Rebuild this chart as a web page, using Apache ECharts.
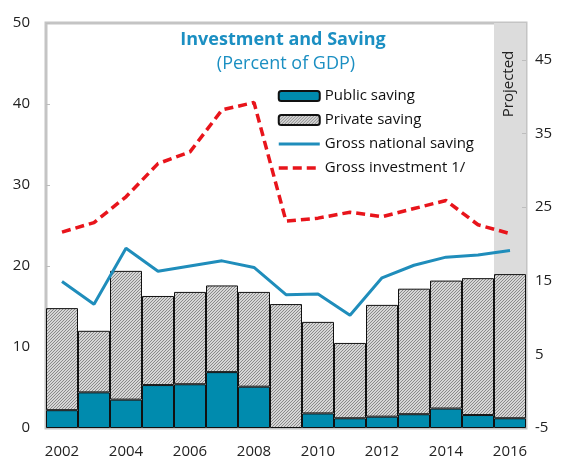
<!DOCTYPE html>
<html>
<head>
<meta charset="utf-8">
<script src="https://cdn.jsdelivr.net/npm/echarts@6/dist/echarts.min.js"></script>
<style>
html,body{margin:0;padding:0;background:#fff;}
#chart{width:562px;height:461px;}
</style>
</head>
<body>
<div id="chart"></div>
<script>
// ---- data ----
var years = ['2002','2003','2004','2005','2006','2007','2008','2009','2010','2011','2012','2013','2014','2015','2016'];
var publicSaving  = [2.2, 4.4, 3.5, 5.3, 5.4, 6.9, 5.1, -2.2, 1.8, 1.2, 1.4, 1.7, 2.4, 1.6, 1.2];
var privateSaving = [12.6, 7.6, 15.9, 11.0, 11.4, 10.7, 11.7, 15.3, 11.3, 9.3, 13.8, 15.5, 15.8, 16.9, 17.8];
var grossNationalSaving = [14.9, 11.8, 19.4, 16.3, 17.0, 17.7, 16.8, 13.1, 13.2, 10.3, 15.4, 17.1, 18.2, 18.5, 19.1];
var grossInvestment = [21.6, 22.9, 26.4, 30.9, 32.5, 38.2, 39.2, 23.1, 23.5, 24.3, 23.7, 24.8, 25.9, 22.6, 21.4];
var leftTicks = [0, 10, 20, 30, 40, 50];
var rightTicks = [-5, 5, 15, 25, 35, 45];
var projectedYears = ['2016'];

// hatch pattern
function makeHatch() {
  var c = document.createElement('canvas');
  c.width = 3; c.height = 3;
  var g = c.getContext('2d');
  g.fillStyle = '#d6d6d6';
  g.fillRect(0, 0, 3, 3);
  g.strokeStyle = '#8a8a8a';
  g.lineWidth = 1;
  g.beginPath();
  g.moveTo(0, 3); g.lineTo(3, 0);
  g.moveTo(-1, 1); g.lineTo(1, -1);
  g.moveTo(2, 4); g.lineTo(4, 2);
  g.stroke();
  return c;
}
var hatch = { image: makeHatch(), repeat: 'repeat' };

var FONT = 'Open Sans';
var TEAL_BAR = '#008bae';
var TEAL_LINE = '#1f8dbb';
var RED = '#e8141b';

var projectedBand = years.map(function (y) { return projectedYears.indexOf(y) >= 0 ? 1 : null; });

var chart = echarts.init(document.getElementById('chart'), null, { renderer: 'canvas' });
chart.setOption({
  animation: false,
  backgroundColor: '#ffffff',
  textStyle: { fontFamily: FONT },
  title: [{
    text: 'Investment and Saving',
    left: 278, top: 26, textAlign: 'center',
    textStyle: { color: '#1b8fc2', fontSize: 18, fontWeight: 'bold', fontFamily: FONT }
  }, {
    text: '(Percent of GDP)',
    left: 281, top: 50, textAlign: 'center',
    textStyle: { color: '#1b8fc2', fontSize: 18, fontWeight: 'normal', fontFamily: FONT }
  }],
  legend: {
    orient: 'vertical',
    left: 277, top: 87, padding: 0,
    itemWidth: 41, itemHeight: 10,
    itemGap: 6, selectedMode: false,
    textStyle: { fontSize: 15, color: '#111', fontFamily: FONT, lineHeight: 18 },
    data: [
      { name: 'Public saving' },
      { name: 'Private saving' },
      { name: 'Gross national saving', itemStyle: { opacity: 0 }, lineStyle: { width: 3 } },
      { name: 'Gross investment 1/', itemStyle: { opacity: 0 }, lineStyle: { width: 3.5 } }
    ]
  },
  grid: {
    left: 46, right: 36, top: 23, bottom: 33,
    show: true,
    borderColor: '#c4c4c4', borderWidth: 3
  },
  xAxis: [{
    type: 'category',
    data: years,
    boundaryGap: true,
    axisLine: { show: false },
    axisTick: { show: false },
    axisLabel: {
      interval: 1, margin: 16, fontSize: 15, color: '#222', fontFamily: FONT
    }
  }, {
    type: 'category',
    data: years,
    boundaryGap: true,
    show: false
  }],
  yAxis: [{
    type: 'value', min: leftTicks[0], max: leftTicks[leftTicks.length - 1], interval: 10,
    position: 'left',
    axisLine: { show: false },
    axisTick: { show: true, inside: true, length: 4, lineStyle: { color: '#bdbdbd', width: 1 } },
    splitLine: { show: false },
    axisLabel: { margin: 16, fontSize: 15, color: '#222', fontFamily: FONT }
  }, {
    type: 'value', min: rightTicks[0], max: 50, interval: 10,
    position: 'right',
    axisLine: { show: false },
    axisTick: { show: true, inside: true, length: 4, lineStyle: { color: '#bdbdbd', width: 1 } },
    splitLine: { show: false },
    axisLabel: { margin: 9, fontSize: 15, color: '#222', fontFamily: FONT, showMaxLabel: false }
  }, {
    type: 'value', min: 0, max: 1, show: false
  }],
  graphic: [{
    type: 'text',
    x: 509, y: 84,
    rotation: Math.PI / 2,
    style: {
      text: 'Projected', fontSize: 15, fontFamily: FONT, fill: '#222',
      textAlign: 'center', textVerticalAlign: 'middle'
    },
    z: 100
  }],
  series: [{
    name: 'Projected band',
    type: 'bar', xAxisIndex: 1, yAxisIndex: 2,
    barCategoryGap: 0,
    data: projectedBand,
    silent: true,
    itemStyle: { color: '#dcdcdc' },
    z: 0
  }, {
    name: 'Public saving',
    type: 'bar', stack: 'saving', yAxisIndex: 0,
    barCategoryGap: 0,
    data: publicSaving,
    itemStyle: { color: TEAL_BAR, borderColor: '#111', borderWidth: 1 },
    z: 2
  }, {
    name: 'Private saving',
    type: 'bar', stack: 'saving', yAxisIndex: 0,
    barCategoryGap: 0,
    data: privateSaving,
    itemStyle: { color: hatch, borderColor: '#111', borderWidth: 1 },
    z: 2
  }, {
    name: 'Gross national saving',
    type: 'line', yAxisIndex: 1,
    data: grossNationalSaving,
    symbol: 'none',
    lineStyle: { color: TEAL_LINE, width: 3 },
    itemStyle: { color: TEAL_LINE },
    z: 5
  }, {
    name: 'Gross investment 1/',
    type: 'line', yAxisIndex: 1,
    data: grossInvestment,
    symbol: 'none',
    lineStyle: { color: RED, width: 3.5, type: [9, 5] },
    itemStyle: { color: RED },
    z: 6
  }]
});
</script>
</body>
</html>
